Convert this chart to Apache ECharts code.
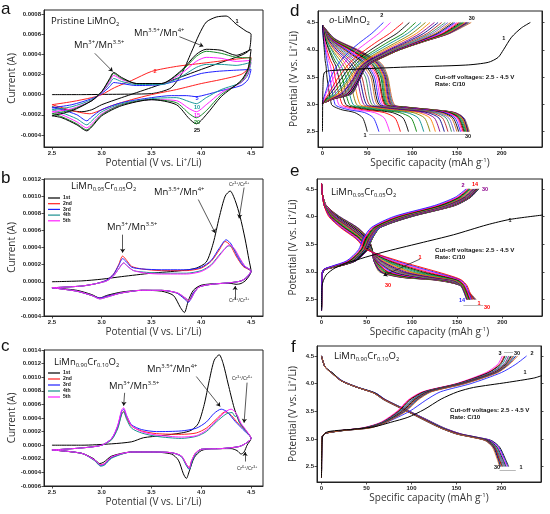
<!DOCTYPE html>
<html>
<head>
<meta charset="UTF-8">
<title>LiMnO2 / LiMn1-xCrxO2 CV and charge-discharge</title>
<script src="https://cdn.jsdelivr.net/npm/echarts@6.0.0/dist/echarts.min.js"></script>
<style>
html, body { margin: 0; padding: 0; background: #fff; }
#chart { width: 550px; height: 514px; }
</style>
</head>
<body>
<div id="chart"></div>
<script>
// ---------- panel a : CV of pristine LiMnO2, [V, current in 1e-4 A] ----------
var cvA1 = [[2.5,0],[2.8,0],[3.0,0.02],[3.3,0.05],[3.5,0.1],[3.6,0.3],[3.7,0.7],[3.8,2.0],[3.9,4.2],[3.98,6.0],[4.05,7.2],[4.15,7.7],[4.25,7.8],[4.35,7.0],[4.45,6.3],[4.5,6.0],
  [4.48,4.4],[4.4,3.9],[4.2,3.2],[4.0,2.5],[3.7,1.4],[3.5,0.7],[3.2,-0.3],[3.0,-1.0],[2.9,-1.5],[2.8,-1.7],[2.7,-1.6],[2.5,-1.2]];
var cvA2 = [[2.5,-1.0],[2.7,-0.7],[2.9,-0.3],[3.0,0.0],[3.13,0.7],[3.3,1.4],[3.5,2.3],[3.75,2.8],[4.0,3.1],[4.25,3.4],[4.5,3.7],
  [4.47,2.6],[4.4,2.0],[4.2,1.5],[4.0,1.1],[3.75,0.5],[3.5,0.0],[3.3,-0.5],[3.1,-1.1],[2.95,-1.7],[2.88,-1.9],[2.75,-1.7],[2.5,-1.0]];
var cvA5 = [[2.5,-1.3],[2.7,-1.0],[2.9,-0.4],[3.0,0.1],[3.08,0.8],[3.12,1.2],[3.2,1.1],[3.35,0.9],[3.6,1.0],[3.8,1.5],[4.0,2.1],[4.15,2.3],[4.3,2.4],[4.5,2.5],
  [4.47,1.5],[4.4,0.9],[4.2,0.4],[4.05,0.0],[3.95,-0.2],[3.85,-0.1],[3.7,-0.1],[3.5,-0.3],[3.2,-0.8],[3.0,-1.5],[2.9,-2.2],[2.85,-2.6],[2.75,-2.0],[2.6,-1.5],[2.5,-1.3]];
var cvA10 = [[2.5,-1.5],[2.7,-1.2],[2.9,-0.5],[3.0,0.2],[3.08,1.1],[3.12,1.6],[3.2,1.3],[3.35,1.0],[3.6,1.0],[3.8,1.8],[3.95,2.7],[4.05,3.0],[4.2,3.0],[4.35,2.9],[4.5,3.2],
  [4.47,2.0],[4.4,1.2],[4.2,0.5],[4.05,-0.3],[3.95,-0.9],[3.88,-0.7],[3.75,-0.3],[3.5,-0.4],[3.2,-0.9],[3.0,-1.7],[2.9,-2.6],[2.85,-3.0],[2.75,-2.4],[2.6,-1.8],[2.5,-1.5]];
var cvA15 = [[2.5,-1.7],[2.7,-1.4],[2.9,-0.6],[3.0,0.2],[3.08,1.3],[3.12,1.9],[3.2,1.5],[3.35,1.1],[3.6,1.1],[3.8,2.1],[3.95,3.3],[4.05,3.7],[4.2,3.6],[4.35,3.3],[4.5,3.4],
  [4.47,2.2],[4.4,1.2],[4.2,0.2],[4.05,-1.0],[3.95,-1.7],[3.88,-1.4],[3.75,-0.6],[3.5,-0.5],[3.2,-1.0],[3.0,-1.9],[2.9,-2.9],[2.85,-3.3],[2.75,-2.7],[2.6,-2.0],[2.5,-1.7]];
var cvA20 = [[2.5,-1.9],[2.7,-1.5],[2.9,-0.6],[3.0,0.3],[3.08,1.5],[3.12,2.1],[3.2,1.6],[3.35,1.1],[3.6,1.1],[3.8,2.3],[3.95,3.8],[4.05,4.3],[4.2,4.1],[4.35,3.7],[4.5,3.6],
  [4.47,2.4],[4.4,1.3],[4.2,0.0],[4.05,-1.6],[3.95,-2.3],[3.88,-1.9],[3.75,-0.8],[3.5,-0.5],[3.2,-1.0],[3.0,-2.0],[2.9,-3.1],[2.85,-3.5],[2.75,-2.9],[2.6,-2.2],[2.5,-1.9]];
var cvA25 = [[2.5,-2.1],[2.7,-1.6],[2.9,-0.6],[3.0,0.3],[3.08,1.6],[3.12,2.2],[3.2,1.7],[3.35,1.1],[3.6,1.1],[3.8,2.4],[3.95,4.0],[4.05,4.5],[4.2,4.4],[4.35,3.9],[4.5,4.5],
  [4.47,2.6],[4.4,1.4],[4.2,-0.2],[4.05,-2.0],[3.95,-2.9],[3.88,-2.4],[3.75,-1.0],[3.5,-0.5],[3.2,-1.1],[3.0,-2.1],[2.9,-3.2],[2.85,-3.6],[2.75,-3.0],[2.6,-2.3],[2.5,-2.1]];
var cvACycles = ['1', '2', '5', '10', '15', '20', '25'];

// ---------- panel b : LiMn0.95Cr0.05O2, cycles 1st..5th ----------
var cvB1 = [[2.5,0.0],[2.8,0.1],[3.0,0.3],[3.2,0.6],[3.5,1.0],[3.8,1.3],[3.95,1.6],[4.05,2.3],[4.12,4.5],[4.18,7.5],[4.24,10.0],[4.29,10.6],[4.34,9.5],[4.39,7.6],[4.44,5.0],[4.48,2.5],[4.5,1.2],
  [4.45,0.2],[4.4,-0.2],[4.35,-0.3],[4.3,-0.2],[4.2,-0.2],[4.0,-0.4],[3.92,-1.0],[3.87,-2.2],[3.83,-3.6],[3.79,-3.0],[3.72,-1.6],[3.6,-1.1],[3.4,-1.0],[3.2,-1.2],[3.05,-1.6],[2.98,-1.9],[2.9,-1.5],[2.75,-1.0],[2.5,-0.7]];
var cvB2 = [[2.5,-0.7],[2.8,-0.5],[2.95,-0.2],[3.05,0.2],[3.12,0.9],[3.17,2.0],[3.21,3.0],[3.25,2.5],[3.3,1.8],[3.4,1.5],[3.6,1.3],[3.85,1.3],[4.0,1.6],[4.1,2.4],[4.18,3.7],[4.24,4.7],[4.29,4.3],[4.35,3.0],[4.42,1.8],[4.5,1.2],
  [4.46,0.5],[4.4,0.1],[4.3,-0.1],[4.1,-0.3],[3.98,-0.6],[3.92,-1.3],[3.87,-2.3],[3.83,-1.9],[3.75,-1.3],[3.6,-1.0],[3.4,-1.0],[3.2,-1.3],[3.05,-1.7],[2.98,-1.9],[2.9,-1.6],[2.75,-1.1],[2.5,-0.7]];
var cvB3 = [[2.5,-0.7],[2.8,-0.5],[2.95,-0.2],[3.05,0.2],[3.12,0.9],[3.17,1.9],[3.21,2.7],[3.25,2.3],[3.3,1.7],[3.4,1.5],[3.6,1.4],[3.85,1.4],[4.0,1.7],[4.1,2.5],[4.18,3.9],[4.25,4.9],[4.3,4.4],[4.36,3.0],[4.42,1.9],[4.5,1.2],
  [4.46,0.5],[4.4,0.1],[4.3,-0.1],[4.1,-0.3],[3.98,-0.6],[3.92,-1.3],[3.87,-2.4],[3.83,-2.0],[3.75,-1.3],[3.6,-1.0],[3.4,-1.0],[3.2,-1.3],[3.05,-1.7],[2.98,-1.9],[2.9,-1.6],[2.75,-1.1],[2.5,-0.7]];
var cvB4 = [[2.5,-0.7],[2.8,-0.5],[2.95,-0.2],[3.05,0.1],[3.12,0.7],[3.17,1.5],[3.22,2.2],[3.26,1.8],[3.32,1.3],[3.45,1.1],[3.6,1.0],[3.85,1.0],[4.0,1.3],[4.1,2.0],[4.2,3.4],[4.28,4.2],[4.33,3.8],[4.38,2.8],[4.44,1.8],[4.5,1.3],
  [4.46,0.6],[4.4,0.1],[4.3,-0.1],[4.1,-0.3],[3.98,-0.6],[3.93,-1.3],[3.88,-2.2],[3.84,-1.9],[3.76,-1.3],[3.6,-1.0],[3.4,-1.0],[3.2,-1.3],[3.05,-1.8],[2.98,-2.0],[2.9,-1.6],[2.75,-1.1],[2.5,-0.7]];
var cvB5 = [[2.5,-0.7],[2.8,-0.5],[2.95,-0.2],[3.05,0.1],[3.12,0.7],[3.17,1.5],[3.22,2.2],[3.26,1.8],[3.32,1.3],[3.45,1.0],[3.6,0.9],[3.85,0.9],[4.0,1.2],[4.1,1.9],[4.2,3.3],[4.28,4.3],[4.33,3.9],[4.38,2.9],[4.44,1.8],[4.5,1.3],
  [4.46,0.6],[4.4,0.1],[4.3,-0.1],[4.1,-0.3],[3.98,-0.6],[3.93,-1.3],[3.88,-2.2],[3.84,-1.9],[3.76,-1.3],[3.6,-1.0],[3.4,-1.0],[3.2,-1.3],[3.05,-1.8],[2.98,-2.0],[2.9,-1.6],[2.75,-1.1],[2.5,-0.7]];
var cvLegend = ['1st', '2nd', '3rd', '4th', '5th'];

// ---------- panel c : LiMn0.90Cr0.10O2, cycles 1st..5th ----------
var cvC1 = [[2.5,0.0],[2.8,0.0],[3.1,0.2],[3.3,0.5],[3.42,1.1],[3.6,1.4],[3.8,1.8],[3.9,2.2],[3.97,3.2],[4.03,6.0],[4.08,9.5],[4.13,12.5],[4.18,13.3],[4.22,12.0],[4.27,9.0],[4.33,5.5],[4.38,3.5],[4.44,2.3],[4.5,1.0],
  [4.46,0.0],[4.43,-1.0],[4.4,-1.3],[4.36,-0.8],[4.3,-0.5],[4.1,-0.5],[4.0,-0.8],[3.93,-1.8],[3.88,-3.8],[3.85,-4.9],[3.82,-4.2],[3.77,-2.2],[3.7,-1.3],[3.5,-1.0],[3.3,-1.0],[3.1,-1.6],[3.02,-2.5],[2.98,-2.7],[2.92,-2.0],[2.8,-1.2],[2.5,-0.7]];
var cvC2 = [[2.5,-0.7],[2.8,-0.4],[3.0,0.0],[3.1,0.9],[3.16,2.6],[3.2,4.6],[3.22,5.0],[3.25,4.0],[3.3,2.8],[3.4,2.1],[3.55,1.7],[3.8,1.6],[3.95,1.8],[4.05,2.5],[4.15,3.8],[4.24,4.9],[4.3,4.4],[4.37,3.2],[4.44,2.2],[4.5,1.0],
  [4.45,0.3],[4.38,-0.2],[4.2,-0.5],[4.0,-0.6],[3.94,-1.2],[3.9,-2.4],[3.88,-3.3],[3.85,-2.8],[3.8,-1.6],[3.7,-1.1],[3.5,-1.0],[3.3,-1.0],[3.1,-1.8],[3.03,-2.7],[2.99,-2.9],[2.93,-2.2],[2.8,-1.2],[2.5,-0.7]];
var cvC3 = [[2.5,-0.7],[2.8,-0.4],[3.0,0.0],[3.1,1.0],[3.16,2.8],[3.2,5.0],[3.22,5.3],[3.25,4.3],[3.3,3.0],[3.4,2.3],[3.55,2.0],[3.8,2.1],[3.95,2.5],[4.05,3.4],[4.13,4.7],[4.2,5.3],[4.26,4.9],[4.34,3.5],[4.42,2.3],[4.5,1.0],
  [4.45,0.3],[4.38,-0.2],[4.2,-0.5],[4.0,-0.6],[3.94,-1.3],[3.9,-2.6],[3.88,-3.5],[3.85,-2.9],[3.8,-1.6],[3.7,-1.1],[3.5,-1.0],[3.3,-1.0],[3.1,-1.8],[3.03,-2.8],[2.99,-3.0],[2.93,-2.2],[2.8,-1.2],[2.5,-0.7]];
var cvC4 = [[2.5,-0.7],[2.8,-0.4],[3.0,0.0],[3.1,0.8],[3.16,2.4],[3.2,4.5],[3.22,4.9],[3.25,3.8],[3.3,2.5],[3.4,1.8],[3.55,1.3],[3.8,1.0],[3.95,1.3],[4.05,2.0],[4.15,3.4],[4.25,4.6],[4.31,4.8],[4.34,4.2],[4.36,4.4],[4.38,3.4],[4.44,2.2],[4.5,1.0],
  [4.45,0.3],[4.38,-0.2],[4.2,-0.5],[4.0,-0.6],[3.94,-1.3],[3.9,-2.7],[3.88,-3.6],[3.85,-3.0],[3.8,-1.7],[3.7,-1.1],[3.5,-1.0],[3.3,-1.0],[3.1,-1.9],[3.03,-2.9],[2.99,-3.1],[2.93,-2.3],[2.8,-1.2],[2.5,-0.7]];
var cvC5 = [[2.5,-0.7],[2.8,-0.4],[3.0,0.0],[3.1,1.0],[3.16,2.9],[3.2,5.2],[3.22,5.5],[3.25,4.4],[3.3,2.9],[3.4,2.0],[3.55,1.5],[3.8,1.2],[3.95,1.4],[4.05,2.2],[4.15,3.6],[4.24,4.9],[4.3,5.3],[4.35,4.7],[4.4,3.2],[4.45,2.2],[4.5,1.0],
  [4.45,0.3],[4.38,-0.2],[4.2,-0.5],[4.0,-0.6],[3.94,-1.2],[3.9,-2.4],[3.88,-3.4],[3.85,-2.8],[3.8,-1.6],[3.7,-1.1],[3.5,-1.0],[3.3,-1.0],[3.1,-1.7],[3.03,-2.7],[2.99,-2.9],[2.93,-2.2],[2.8,-1.2],[2.5,-0.7]];

// ---------- panel d : o-LiMnO2 charge/discharge, capacity (mAh/g) read at fixed voltages ----------
var dDisV = [4.45, 4.2, 4.0, 3.8, 3.7, 3.5, 3.0, 2.95, 2.9, 2.85, 2.75, 2.5];
var dDis = [
  [0, 1, 2, 3, 4, 5, 10, 14, 22, 36, 45, 50],
  [0, 1, 3, 5, 6, 8, 14, 19, 30, 47, 57, 63],
  [0, 2, 4, 7, 9, 11, 18, 24, 38, 58, 69, 75],
  [0, 2, 5, 9, 12, 14, 22, 29, 46, 69, 81, 87],
  [0, 3, 7, 12, 15, 18, 26, 34, 53, 78, 90, 96],
  [0, 3, 8, 14, 18, 22, 30, 39, 60, 86, 99, 105],
  [0, 4, 10, 17, 21, 26, 34, 44, 67, 94, 107, 113],
  [0, 4, 11, 20, 24, 30, 38, 49, 73, 101, 114, 120],
  [0, 5, 13, 23, 27, 34, 42, 54, 79, 107, 120, 126],
  [0, 5, 14, 26, 31, 38, 46, 58, 85, 112, 125, 131],
  [0, 6, 16, 29, 34, 41, 49, 62, 90, 117, 130, 136],
  [0, 6, 18, 32, 37, 44, 52, 66, 95, 121, 134, 140],
  [0, 7, 20, 35, 40, 48, 55, 70, 99, 125, 138, 144],
  [0, 7, 22, 38, 43, 51, 58, 74, 103, 128, 141, 147],
  [0, 8, 24, 41, 46, 54, 61, 77, 107, 131, 144, 150],
  [0, 8, 25, 43, 49, 56, 63, 80, 110, 134, 146, 152],
  [0, 9, 27, 45, 51, 58, 65, 82, 113, 136, 148, 154],
  [0, 9, 28, 47, 53, 60, 67, 84, 115, 138, 150, 155.5],
  [0, 10, 30, 49, 55, 62, 69, 86, 117, 140, 151, 157],
  [0, 10, 31, 51, 57, 63, 70, 87, 118, 141, 152, 158],
  [0, 11, 32, 52, 58, 65, 71, 88, 119, 142, 153, 159],
  [0, 11, 33, 54, 60, 66, 72, 89, 120, 143, 154, 160],
  [0, 12, 34, 55, 61, 67, 73, 90, 121, 144, 155, 160.5],
  [0, 12, 35, 56, 62, 68, 74, 90, 122, 145, 156, 161],
  [0, 12, 36, 57, 63, 69, 75, 91, 122, 146, 156, 161.5],
  [0, 13, 37, 58, 64, 70, 76, 92, 123, 146, 157, 162],
  [0, 13, 38, 59, 65, 71, 77, 93, 124, 147, 157, 162.5],
  [0, 13, 38, 60, 66, 72, 78, 94, 124, 147, 157, 163],
  [0, 14, 39, 61, 67, 72, 79, 94, 125, 148, 158, 163],
  [0, 14, 40, 62, 68, 73, 80, 95, 125, 148, 158, 164]
];
var dChg1 = [[0,2.5],[0.5,3.3],[2,3.58],[10,3.62],[87,3.68],[160,3.72],[185,3.77],[196,3.86],[202,4.0],[211,4.23],[222,4.4],[232,4.5]];
var dChgV = [3.02, 3.1, 3.2, 3.45, 3.65, 3.75, 3.85, 4.0, 4.15, 4.3, 4.5];
var dChg = [ // cycles 2..30
  [0, 1, 3, 8, 14, 18, 23, 32, 43, 55, 68],
  [0, 2, 4, 11, 19, 24, 29, 39, 51, 63, 76],
  [0, 3, 7, 16, 25, 30, 36, 48, 61, 75, 90],
  [0, 4, 9, 20, 29, 34, 41, 54, 68, 83, 97],
  [0, 5, 12, 24, 32, 38, 45, 59, 74, 90, 104],
  [0, 6, 15, 27, 35, 41, 48, 63, 79, 95, 110],
  [0, 7, 17, 29, 37, 43, 51, 67, 84, 100, 115],
  [0, 8, 19, 31, 39, 45, 53, 70, 88, 105, 120],
  [0, 9, 21, 33, 40, 46, 55, 73, 92, 109, 125],
  [0, 9, 22, 34, 41, 47, 57, 75, 95, 113, 129],
  [0, 10, 24, 35, 42, 48, 58, 77, 98, 117, 133],
  [0, 10, 25, 36, 43, 49, 59, 79, 101, 120, 137],
  [0, 10, 26, 37, 43, 50, 60, 80, 103, 123, 140],
  [0, 11, 27, 38, 44, 50, 61, 81, 105, 126, 143],
  [0, 11, 28, 38, 44, 51, 62, 82, 106, 128, 146],
  [0, 11, 28, 39, 45, 51, 62, 83, 107, 130, 148],
  [0, 11, 29, 39, 45, 52, 63, 83, 108, 132, 150],
  [0, 12, 29, 39, 45, 52, 63, 84, 109, 134, 152],
  [0, 12, 30, 40, 46, 52, 64, 84, 110, 135, 154],
  [0, 12, 30, 40, 46, 53, 64, 85, 110, 136, 156],
  [0, 12, 31, 40, 46, 53, 64, 85, 111, 137, 157],
  [0, 12, 31, 40, 46, 53, 65, 85, 111, 138, 158],
  [0, 12, 31, 40, 46, 53, 65, 86, 112, 139, 159],
  [0, 12, 32, 41, 47, 54, 65, 86, 112, 140, 160],
  [0, 12, 32, 41, 47, 54, 65, 86, 112, 140, 161],
  [0, 12, 32, 41, 47, 54, 66, 86, 113, 141, 162],
  [0, 12, 33, 41, 47, 54, 66, 86, 113, 141, 163],
  [0, 12, 33, 41, 47, 54, 66, 86, 113, 142, 164],
  [0, 12, 33, 41, 47, 54, 66, 86, 113, 142, 166]
];

// ---------- panel e : LiMn0.95Cr0.05O2 ----------
var eDisV = [4.6, 4.4, 4.2, 4.0, 3.8, 3.6, 3.4, 3.2, 3.0, 2.9, 2.85, 2.75, 2.5];
var eDis = [
  [0, 1, 3, 8, 21, 38, 50, 85, 128, 148, 155, 161, 167],
  [0, 1, 3, 9, 22, 39, 51, 82, 124, 146, 154, 160, 166],
  [0, 1, 3, 9, 23, 40, 51, 79, 120, 144, 153, 159, 165],
  [0, 1, 3, 10, 24, 41, 52, 77, 116, 142, 152, 158, 164.5],
  [0, 1, 3, 10, 25, 42, 52, 75, 112, 140, 151, 158, 164],
  [0, 1, 3, 11, 26, 43, 53, 73, 108, 138, 150, 157, 163.5],
  [0, 1, 4, 11, 27, 43, 53, 71, 104, 135, 149, 157, 163],
  [0, 1, 4, 12, 28, 44, 53, 70, 100, 132, 148, 156, 162.5],
  [0, 1, 4, 12, 29, 45, 54, 68, 97, 129, 147, 156, 162],
  [0, 1, 4, 13, 30, 45, 54, 67, 94, 126, 146, 155, 161.5],
  [0, 1, 4, 13, 30, 46, 54, 66, 91, 123, 145, 155, 161],
  [0, 1, 4, 14, 31, 46, 54, 65, 88, 120, 144, 155, 161],
  [0, 1, 4, 14, 32, 47, 55, 64, 86, 117, 142, 154, 160.5],
  [0, 1, 4, 15, 32, 47, 55, 63, 84, 114, 141, 154, 160.5],
  [0, 1, 4, 15, 33, 48, 55, 62, 82, 111, 140, 154, 161],
  [0, 1, 4, 15, 34, 48, 55, 62, 80, 108, 139, 154, 161.5],
  [0, 1, 4, 16, 34, 49, 55, 61, 78, 106, 138, 154, 162],
  [0, 1, 5, 16, 35, 49, 55, 61, 76, 104, 137, 154, 162.5],
  [0, 1, 5, 16, 35, 49, 55, 60, 74, 102, 136, 154, 163],
  [0, 1, 5, 17, 36, 50, 56, 60, 73, 100, 135, 154, 164],
  [0, 1, 5, 17, 36, 50, 56, 60, 71, 98, 134, 154, 165],
  [0, 1, 5, 17, 37, 50, 56, 59, 70, 96, 133, 154, 166],
  [0, 1, 5, 18, 37, 51, 56, 59, 69, 95, 132, 154, 167],
  [0, 1, 5, 18, 38, 51, 56, 59, 68, 93, 131, 154, 168],
  [0, 1, 5, 18, 38, 51, 56, 58, 67, 92, 130, 154, 168.5],
  [0, 1, 5, 19, 39, 51, 56, 58, 66, 91, 129, 154, 169],
  [0, 1, 5, 19, 39, 52, 56, 58, 66, 90, 128, 154, 169.5],
  [0, 1, 5, 19, 39, 52, 56, 58, 65, 89, 127, 154, 170],
  [0, 1, 5, 20, 40, 52, 56, 58, 65, 88, 126, 154, 170.5],
  [0, 1, 5, 20, 40, 52, 56, 58, 64, 88, 125, 155, 171]
];
var eChg1 = [[0,2.3],[0.5,2.74],[5,2.94],[15,3.07],[30,3.17],[67,3.35],[109,3.52],[146,3.67],[183,3.85],[209,3.95],[246,4.03]];
var eChgV = [2.3, 2.9, 3.0, 3.05, 3.1, 3.2, 3.4, 3.6, 3.8, 4.0, 4.2, 4.35, 4.5];
var eChg = [ // cycles 2..30
  [0, 0.5, 1, 3, 11, 28, 41, 46, 55, 80, 125, 148, 160],
  [0, 0.5, 1, 3, 12, 29, 42, 47, 56, 82, 127, 150, 161],
  [0, 0.5, 1, 3, 12, 30, 43, 48, 57, 84, 129, 151, 162],
  [0, 0.5, 1, 3, 13, 31, 44, 49, 58, 85, 131, 152, 163],
  [0, 0.5, 1, 3, 13, 31, 44, 50, 59, 86, 132, 153, 164],
  [0, 0.5, 1, 3, 14, 32, 45, 50, 59, 87, 133, 154, 164.5],
  [0, 0.5, 1, 4, 14, 32, 45, 51, 60, 88, 134, 155, 165],
  [0, 0.5, 1, 4, 15, 33, 46, 51, 60, 89, 135, 156, 166],
  [0, 0.5, 1, 4, 15, 33, 46, 52, 61, 90, 136, 157, 167],
  [0, 0.5, 1.5, 4, 15, 34, 47, 52, 61, 91, 137, 158, 168],
  [0, 0.5, 1.5, 4, 16, 34, 47, 53, 62, 92, 138, 159, 168.5],
  [0, 0.5, 1.5, 4, 16, 35, 48, 53, 62, 93, 139, 160, 169],
  [0, 0.5, 1.5, 4, 16, 35, 48, 54, 63, 94, 140, 160, 169.5],
  [0, 0.5, 1.5, 4, 17, 35, 48, 54, 63, 94, 141, 161, 170],
  [0, 0.5, 1.5, 4, 17, 36, 49, 54, 63, 95, 141, 161, 170.5],
  [0, 0.5, 1.5, 5, 17, 36, 49, 55, 64, 95, 142, 162, 171],
  [0, 0.5, 1.5, 5, 17, 36, 49, 55, 64, 96, 143, 162, 171],
  [0, 0.5, 1.5, 5, 18, 36, 49, 55, 64, 96, 143, 163, 171.5],
  [0, 0.5, 1.5, 5, 18, 37, 50, 55, 64, 97, 144, 163, 172],
  [0, 0.5, 1.5, 5, 18, 37, 50, 55, 64, 97, 144, 163, 172],
  [0, 0.5, 1.5, 5, 18, 37, 50, 56, 65, 98, 145, 164, 172.5],
  [0, 0.5, 1.5, 5, 19, 37, 50, 56, 65, 98, 145, 164, 172.5],
  [0, 0.5, 1.5, 5, 19, 37, 50, 56, 65, 98, 146, 164, 173],
  [0, 0.5, 1.5, 5, 19, 38, 51, 56, 65, 99, 146, 164, 173],
  [0, 0.5, 1.5, 5, 19, 38, 51, 56, 65, 99, 147, 165, 173.5],
  [0, 0.5, 1.5, 5, 19, 38, 51, 56, 65, 99, 147, 165, 173.5],
  [0, 0.5, 1.5, 5, 19, 38, 51, 56, 65, 100, 147, 165, 174],
  [0, 0.5, 1.5, 5, 19, 38, 51, 56, 65, 100, 148, 165, 174],
  [0, 0.5, 1.5, 5, 19, 38, 51, 56, 65, 100, 148, 165, 174]
];

// ---------- panel f : LiMn0.90Cr0.10O2 ----------
var fDisV = [4.5, 4.3, 4.18, 4.05, 3.93, 3.83, 3.71, 3.5, 3.35, 3.2, 3.09, 3.03, 2.97, 2.85, 2.65, 2.5];
var fDisCycles = [1, 2, 3, 5, 7, 10, 13, 16, 19, 22, 26, 30];
var fDis = [
  [0, 4, 13, 23, 41, 60, 71, 98, 117, 136, 155, 173, 189, 198, 204, 208],
  [0, 4, 13, 23, 41, 60, 71, 97, 116, 135, 154, 172, 188, 197, 203, 207],
  [0, 4, 13, 22, 40, 59, 70, 97, 116, 135, 154, 172, 187, 196, 202, 206],
  [0, 4, 13, 22, 40, 59, 70, 96, 115, 134, 153, 171, 186, 195, 201, 205],
  [0, 4, 13, 22, 40, 59, 70, 96, 115, 134, 152, 170, 185, 194, 200, 204],
  [0, 4, 13, 22, 40, 59, 70, 96, 114, 133, 152, 170, 185, 193, 199, 203],
  [0, 4, 13, 22, 40, 59, 70, 96, 114, 133, 151, 169, 184, 193, 198, 202],
  [0, 4, 13, 22, 40, 59, 70, 95, 114, 133, 151, 169, 184, 192, 197, 201],
  [0, 4, 12, 22, 40, 58, 70, 95, 114, 132, 151, 168, 183, 192, 197, 200],
  [0, 4, 12, 22, 40, 58, 69, 95, 113, 132, 150, 168, 183, 191, 196, 199],
  [0, 4, 12, 22, 40, 58, 69, 95, 113, 132, 150, 168, 182, 191, 196, 198.5],
  [0, 4, 12, 22, 40, 58, 69, 95, 113, 132, 150, 167, 182, 190, 195, 198]
];
var fChg1 = [[0,2.3],[0.5,2.9],[1.5,3.05],[7,3.13],[40,3.18],[59,3.22],[77,3.3],[96,3.39],[114,3.53],[133,3.72],[151,3.85],[169,3.93],[206,4.02],[236,4.1],[246,4.15]];
var fChgV = [2.3, 2.95, 3.05, 3.1, 3.15, 3.2, 3.3, 3.5, 3.7, 3.85, 4.0, 4.2, 4.35, 4.5];
var fChgCycles = [2, 3, 4, 5, 7, 10, 13, 16, 19, 22, 26, 30];
var fChg = [
  [0, 0.3, 1, 4, 22, 50, 72, 98, 116, 132, 166, 200, 216, 228],
  [0, 0.3, 1, 4, 21, 46, 66, 84, 96, 112, 150, 183, 196, 201],
  [0, 0.3, 1, 4, 21, 47, 67, 85, 97, 113, 151, 185, 198, 203],
  [0, 0.3, 1, 4, 22, 48, 68, 86, 98, 114, 152, 186, 199, 204],
  [0, 0.3, 1, 4, 22, 48, 68, 87, 100, 115, 153, 188, 201, 206],
  [0, 0.3, 1, 4, 22, 49, 69, 88, 101, 116, 154, 189, 203, 208],
  [0, 0.3, 1, 4, 23, 50, 70, 89, 102, 117, 155, 191, 204, 210],
  [0, 0.3, 1, 4, 23, 51, 70, 90, 103, 118, 156, 192, 205, 211],
  [0, 0.3, 1, 4, 23, 52, 71, 91, 104, 119, 157, 193, 206, 213],
  [0, 0.3, 1, 4, 24, 53, 71, 92, 105, 120, 158, 194, 207, 214],
  [0, 0.3, 1, 4, 24, 54, 72, 93, 106, 121, 159, 195, 208, 216],
  [0, 0.3, 1, 4, 24, 55, 72, 94, 107, 122, 160, 196, 209, 218]
];

var cvTicksX = [2.5, 3.0, 3.5, 4.0, 4.5];
var cvTicksA = [-4, -2, 0, 2, 4, 6, 8];
var cvTicksB = [-4, -2, 0, 2, 4, 6, 8, 10, 12];
var cvTicksC = [-6, -4, -2, 0, 2, 4, 6, 8, 10, 12, 14];
var capTicks = [0, 50, 100, 150, 200];
var potTicks = [2.5, 3.0, 3.5, 4.0, 4.5];

var cvColors = ['#000000', '#ff2020', '#2020ff', '#1a9090', '#ff20ff'];
var cvAColors = ['#000000', '#ff2020', '#2020ff', '#1a9a9a', '#ff20ff', '#1a8a2a', '#000000'];
var cyclePal = ['#000000', '#1f1fff', '#ff1fff', '#ff0000', '#000000', '#008000', '#008b8b', '#808000', '#ff7f00', '#8b008b', '#00008b', '#b22222', '#2e8b57', '#6a5acd', '#d2691e'];

// ---------------------------------------------------------------------
var chart = echarts.init(document.getElementById('chart'));
var FONT = 'Open Sans';
var TICKFONT = 'Liberation Sans';

function pairs(caps, volts) {
  return caps.map(function (c, i) { return [c, volts[i]]; });
}

var grids = [
  {left: 44, top: 10, width: 219, height: 137},
  {left: 44, top: 179, width: 219, height: 137},
  {left: 44, top: 350, width: 219, height: 136},
  {left: 318, top: 11, width: 224, height: 136},
  {left: 317, top: 179, width: 225, height: 137},
  {left: 317, top: 346, width: 224, height: 136}
];
grids.forEach(function (g) { g.show = true; g.borderColor = '#222'; g.borderWidth = 1; });

var nameRich = {
  m: {fontSize: 10, fontFamily: FONT, color: '#333', lineHeight: 13},
  p: {fontSize: 6, fontFamily: FONT, color: '#333', lineHeight: 7, verticalAlign: 'top'}
};

function axis(gi, min, max, ticks, fmt, name, gap, extra) {
  var a = {
    type: 'value', gridIndex: gi, min: min, max: max,
    name: name, nameLocation: 'middle', nameGap: gap,
    nameTextStyle: {fontSize: 10, fontFamily: FONT, color: '#333', rich: nameRich},
    axisLine: {show: true, onZero: false, lineStyle: {color: '#222', width: 1}},
    axisTick: {show: true, inside: false, length: 2.5, customValues: ticks, lineStyle: {color: '#222', width: 0.8}},
    axisLabel: {show: true, customValues: ticks, formatter: fmt, fontSize: 6, fontWeight: 'bold', fontFamily: TICKFONT, color: '#222', margin: 3},
    splitLine: {show: false}
  };
  if (extra) for (var k in extra) a[k] = extra[k];
  return a;
}
function f1(v) { return v.toFixed(1); }
function f0(v) { return String(Math.round(v)); }
function fA(v) { return (v / 10000).toFixed(4); }

var potName = '{m|Potential (V vs. Li}{p|+}{m|/Li)}';
var capName = '{m|Specific capacity (mAh g}{p|-1}{m|)}';

var xAxes = [
  axis(0, 2.42, 4.62, cvTicksX, f1, potName, 9),
  axis(1, 2.42, 4.62, cvTicksX, f1, potName, 9),
  axis(2, 2.42, 4.62, cvTicksX, f1, potName, 9),
  axis(3, -5, 245, capTicks, f0, capName, 9),
  axis(4, -5, 244, capTicks, f0, capName, 9),
  axis(5, -5, 244, capTicks, f0, capName, 6)
];
var yAxes = [
  axis(0, -5.2, 8.4, cvTicksA, fA, 'Current (A)', 27),
  axis(1, -4, 12, cvTicksB, fA, 'Current (A)', 27),
  axis(2, -6, 14, cvTicksC, fA, 'Current (A)', 27),
  axis(3, 2.22, 4.71, potTicks, f1, potName, 17),
  axis(4, 2.2, 4.68, potTicks, f1, potName, 17),
  axis(5, 2.22, 4.68, potTicks, f1, potName, 17)
];
// mirrored right-hand ticks on the capacity panels
[3, 4, 5].forEach(function (gi) {
  var src = yAxes[gi];
  var m = axis(gi, src.min, src.max, potTicks, f1, '', 0, {position: 'right'});
  m.axisLabel.show = false;
  yAxes.push(m);
});

var series = [];
function addLine(gi, data, color, width, z) {
  var s = {
    type: 'line', xAxisIndex: gi, yAxisIndex: gi, data: data,
    symbol: 'none', showSymbol: false, smooth: 0.25, clip: true, silent: true,
    lineStyle: {color: color, width: width || 0.9}, z: z || 2
  };
  series.push(s);
  return s;
}
function arrows(s, list, color, head) {
  s.markLine = {
    silent: true, animation: false,
    symbol: head === false ? ['none', 'none'] : ['none', 'arrow'], symbolSize: 4,
    label: {show: false},
    lineStyle: {color: color || '#111', width: 0.7, type: 'solid'},
    data: list.map(function (a) { return [{coord: a[0]}, {coord: a[1]}]; })
  };
}

// a
var aSeries = [cvA1, cvA2, cvA5, cvA10, cvA15, cvA20, cvA25].map(function (d, i) {
  return addLine(0, d, cvAColors[i], 1);
});
arrows(aSeries[0], [
  [[2.93, 4.1], [3.11, 2.3]],
  [[3.78, 5.75], [4.02, 4.8]]
]);
// b
var bSeries = [cvB1, cvB2, cvB3, cvB4, cvB5].map(function (d, i) {
  return addLine(1, d, cvColors[i], 1);
});
arrows(bSeries[0], [
  [[3.21, 5.5], [3.21, 3.4]],
  [[3.97, 9.6], [4.14, 5.7]],
  [[4.43, 11.0], [4.38, 7.4]],
  [[4.34, -2.1], [4.34, -0.5]]
]);
// c
var cSeries = [cvC1, cvC2, cvC3, cvC4, cvC5].map(function (d, i) {
  return addLine(2, d, cvColors[i], 1);
});
arrows(cSeries[0], [
  [[3.23, 7.7], [3.22, 5.8]],
  [[3.95, 10.1], [4.19, 5.7]],
  [[4.46, 9.2], [4.43, 3.3]],
  [[4.44, -2.4], [4.44, -1.0]]
]);
// d
for (var k = dDis.length - 1; k >= 0; k--) {
  addLine(3, pairs(dDis[k], dDisV), cyclePal[k % cyclePal.length], 0.9);
}
for (var k2 = dChg.length - 1; k2 >= 0; k2--) {
  addLine(3, pairs(dChg[k2], dChgV), cyclePal[(k2 + 1) % cyclePal.length], 0.9);
}
var d1 = addLine(3, dChg1, '#000000', 1, 3);
arrows(d1, [[[52, 2.445], [160, 2.445]]], '#999', false);
// e
for (var j = eDis.length - 1; j >= 0; j--) {
  addLine(4, pairs(eDis[j], eDisV), j === 0 ? '#ff0000' : cyclePal[j % cyclePal.length], 0.9, j === 0 ? 3 : 2);
}
for (var j2 = eChg.length - 1; j2 >= 0; j2--) {
  addLine(4, pairs(eChg[j2], eChgV), cyclePal[(j2 + 1) % cyclePal.length], 0.9);
}
var e1 = addLine(4, eChg1, '#000000', 1, 3);
arrows(e1, [[[108.9, 3.23], [68.6, 2.93]]], '#111');
var e1b = addLine(4, [], '#999', 0.8);
arrows(e1b, [[[157, 2.4], [179, 2.4]]], '#999', false);
// f
fDis.forEach(function (row, i) {
  addLine(5, pairs(row, fDisV), cyclePal[(fDisCycles[i] - 1) % cyclePal.length], 0.9);
});
fChg.forEach(function (row, i) {
  addLine(5, pairs(row, fChgV), cyclePal[(fChgCycles[i] - 1) % cyclePal.length], 0.9);
});
var f1s = addLine(5, fChg1, '#000000', 1, 3);
arrows(f1s, [
  [[203, 4.56], [213, 4.56]],
  [[198, 2.43], [216, 2.43]]
], '#999', false);

// ---------------- texts ----------------
var graphics = [];
var richTxt = {
  m: {font: '9.5px "Open Sans"', lineHeight: 12},
  i: {font: 'italic 9.5px "Open Sans"', lineHeight: 12},
  p: {font: '5.8px "Open Sans"', lineHeight: 6, verticalAlign: 'top'},
  b: {font: '5.8px "Open Sans"', lineHeight: 6, verticalAlign: 'bottom'},
  s: {font: '5px "Open Sans"', lineHeight: 7},
  q: {font: '3.5px "Open Sans"', lineHeight: 4, verticalAlign: 'top'}
};
function txt(x, y, s, font, color, align, vAlign) {
  graphics.push({
    type: 'text', x: x, y: y, silent: true, z: 100,
    style: {text: s, font: font, fill: color || '#111', rich: richTxt,
      align: align || 'left', verticalAlign: vAlign || 'top'}
  });
}
function tag(x, y, s, color) {
  txt(x, y, s, 'bold 5.5px "Liberation Sans"', color, 'center', 'middle');
}
var LETTER = '17px "Liberation Sans"';
var SMALL = 'bold 5px "Liberation Sans"';
var NOTE = 'bold 6.2px "Liberation Sans"';
var MAIN = '9.5px "Open Sans"';

// a
txt(1, 1, 'a', LETTER);
txt(51, 15, '{m|Pristine LiMnO}{b|2}', MAIN);
txt(74, 39, '{m|Mn}{p|3+}{m|/Mn}{p|3.5+}', MAIN);
txt(134, 27, '{m|Mn}{p|3.5+}{m|/Mn}{p|4+}', MAIN);
var aTagPos = [[237, 21], [155, 71], [197, 98], [197, 107], [197, 115], [197, 122], [197, 130]];
cvACycles.forEach(function (c, i) { tag(aTagPos[i][0], aTagPos[i][1], c, cvAColors[i]); });

// b
txt(1, 170, 'b', LETTER);
txt(71, 180, '{m|LiMn}{b|0.95}{m|Cr}{b|0.05}{m|O}{b|2}', MAIN);
txt(107, 221, '{m|Mn}{p|3+}{m|/Mn}{p|3.5+}', MAIN);
txt(154, 186, '{m|Mn}{p|3.5+}{m|/Mn}{p|4+}', MAIN);
txt(229, 181, '{s|Cr}{q|3+}{s|/Cr}{q|6+}', '5px "Open Sans"');
txt(229, 297, '{s|Cr}{q|6+}{s|/Cr}{q|3+}', '5px "Open Sans"');

// c
txt(1, 338, 'c', LETTER);
txt(54, 356, '{m|LiMn}{b|0.90}{m|Cr}{b|0.10}{m|O}{b|2}', MAIN);
txt(109, 380, '{m|Mn}{p|3+}{m|/Mn}{p|3.5+}', MAIN);
txt(147, 363, '{m|Mn}{p|3.5+}{m|/Mn}{p|4+}', MAIN);
txt(232, 375, '{s|Cr}{q|3+}{s|/Cr}{q|6+}', '5px "Open Sans"');
txt(237, 465, '{s|Cr}{q|6+}{s|/Cr}{q|3+}', '5px "Open Sans"');

// legends of b and c
[[198, 5.7], [373, 6]].forEach(function (lg) {
  cvLegend.forEach(function (name, i) {
    var y = lg[0] + i * lg[1];
    graphics.push({type: 'line', silent: true, z: 100,
      shape: {x1: 48, y1: y, x2: 60, y2: y}, style: {stroke: cvColors[i], lineWidth: 1.2}});
    txt(63, y, name, SMALL, '#111', 'left', 'middle');
  });
});

// d
txt(290, 3, 'd', LETTER);
txt(329, 14, '{i|o}{m|-LiMnO}{b|2}', MAIN);
tag(381.7, 15, '2', '#111');
tag(471.7, 18, '30', '#111');
tag(503.7, 38, '1', '#111');
tag(365, 135, '1', '#111');
tag(468, 136, '30', '#111');
txt(435, 77, 'Cut-off voltages: 2.5 - 4.5 V', NOTE, '#111', 'left', 'middle');
txt(435, 84, 'Rate: C/10', NOTE, '#111', 'left', 'middle');

// e
txt(290, 163, 'e', LETTER);
txt(331, 186, '{m|LiMn}{b|0.95}{m|Cr}{b|0.05}{m|O}{b|2}', MAIN);
tag(463, 185, '2', '#8b008b');
tag(475, 184, '14', '#ff0000');
tag(485, 189, '30', '#8b008b');
tag(510, 220, '1', '#111');
tag(420, 257, '1', '#ff0000');
tag(388, 285, '30', '#ff0000');
tag(462, 300, '14', '#1f1fff');
tag(479, 303, '1', '#ff0000');
tag(487, 307, '30', '#ff0000');
txt(435, 250, 'Cut-off voltages: 2.5 - 4.5 V', NOTE, '#111', 'left', 'middle');
txt(435, 257, 'Rate: C/10', NOTE, '#111', 'left', 'middle');

// f
txt(291, 339, 'f', LETTER);
txt(334, 350, '{m|LiMn}{b|0.90}{m|Cr}{b|0.10}{m|O}{b|2}', MAIN);
tag(500, 353, '3', '#111');
tag(517, 353, '30', '#111');
tag(532, 353, '2', '#111');
tag(525, 372, '1', '#111');
tag(497, 467, '30', '#111');
tag(521, 467, '1', '#111');
txt(450, 410, 'Cut-off voltages: 2.5 - 4.5 V', NOTE, '#111', 'left', 'middle');
txt(450, 417, 'Rate: C/10', NOTE, '#111', 'left', 'middle');

chart.setOption({
  animation: false,
  backgroundColor: '#ffffff',
  grid: grids,
  xAxis: xAxes,
  yAxis: yAxes,
  series: series,
  graphic: graphics
});
</script>
</body>
</html>
